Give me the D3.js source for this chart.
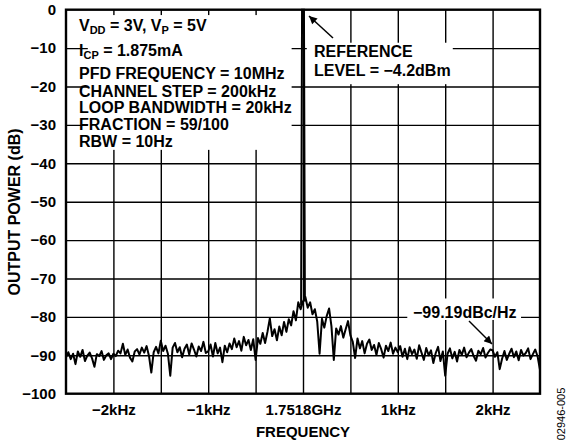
<!DOCTYPE html>
<html>
<head>
<meta charset="utf-8">
<script src="https://cdn.jsdelivr.net/npm/d3@7"></script>
<style>
  body { margin: 0; background: #fff; }
  svg { font-family: "Liberation Sans", Arial, Helvetica, sans-serif; font-weight: bold; }
</style>
</head>
<body>
<svg id="spectrumChart"></svg>
<script>
// spectrum analyser sweep, 25Hz bins from -2.5kHz to +2.5kHz around the carrier
const spanStartKHz = -2.5;
const binKHz = 0.025;
const noiseLevel = [
  -90.5, -89.2, -91.0, -89.6, -92.3, -89.0, -90.4, -88.6, -91.5, -90.1, -89.3, -90.8, -93.0, -89.7, -90.2, -88.9, -91.2, -90.0, -89.5, -91.0,
  -89.6, -90.2, -88.8, -89.5, -87.0, -89.9, -88.5, -90.6, -91.6, -89.0, -88.4, -89.8, -88.0, -89.3, -87.6, -90.1, -94.5, -89.2, -87.8, -89.5,
  -86.2, -88.9, -87.5, -89.6, -95.3, -88.0, -86.8, -89.2, -87.9, -90.5, -88.3, -87.2, -89.8, -86.9, -88.5, -90.3, -87.7, -88.9, -86.5, -89.4,
  -89.0, -87.2, -90.3, -86.8, -89.5, -88.0, -91.8, -87.5, -89.2, -86.9, -88.4, -85.6, -87.9, -86.3, -88.8, -85.2, -87.4, -86.0, -88.6, -85.8,
  -91.2, -85.5, -87.0, -84.2, -86.8, -83.9, -80.4, -85.0, -83.2, -86.1, -82.5, -84.8, -81.3, -83.9, -80.6, -82.2, -78.5, -80.9, -76.2, -78.0,
  -76.0, -74.8, -77.6, -76.2, -79.3, -78.0, -81.2, -89.6, -80.5, -82.8, -79.8, -77.8, -82.4, -91.2, -83.0, -84.6, -82.4, -85.4, -83.2, -81.1,
  -84.8, -86.5, -90.7, -85.6, -88.2, -86.3, -89.5, -87.0, -85.9, -88.6, -87.3, -89.9, -86.8, -88.4, -90.6, -87.5, -88.9, -86.7, -89.6, -88.0,
  -89.2, -87.6, -90.4, -88.3, -91.0, -87.9, -89.7, -88.5, -90.9, -87.4, -89.3, -91.2, -88.1, -90.0, -88.7, -92.0, -89.4, -87.8, -91.5, -89.0,
  -95.3, -89.6, -88.2, -90.8, -89.1, -91.6, -88.6, -89.9, -88.0, -90.5, -89.3, -88.4, -90.2, -91.4, -88.8, -89.7, -88.1, -90.6, -89.4, -88.5,
  -88.7, -90.4, -89.2, -93.6, -90.9, -88.9, -91.2, -89.6, -88.3, -90.5, -89.0, -91.3, -88.6, -90.1, -89.4, -88.2, -91.0, -89.7, -88.5, -90.3,
  -93.8
];

// the carrier itself, drawn up to the reference level at the top of the screen
const carrierFreq = [-0.02, -0.01, 0.01, 0.02];
const carrierLevel = [-77, 0, 0, -76];

const yTickValues = [0, -10, -20, -30, -40, -50, -60, -70, -80, -90, -100];
const gridFreqs = [-2, -1.5, -1, -0.5, 0, 0.5, 1, 1.5, 2];
const xTickFreqs = [-2, -1, 0, 1, 2];
const xTickLabels = ["\u22122kHz", "\u22121kHz", "1.7518GHz", "1kHz", "2kHz"];

const settingsLines = [
  [["V"], ["DD", "sub"], [" = 3V, V"], ["P", "sub"], [" = 5V"]],
  [["I"], ["CP", "sub"], [" = 1.875mA"]],
  [["PFD FREQUENCY = 10MHz"]],
  [["CHANNEL STEP = 200kHz"]],
  [["LOOP BANDWIDTH = 20kHz"]],
  [["FRACTION = 59/100"]],
  [["RBW = 10Hz"]]
];
const referenceLines = ["REFERENCE", "LEVEL = \u22124.2dBm"];
const noiseLabel = "\u221299.19dBc/Hz";

const dimensions = {
  width: 568,
  height: 445,
  margin: { top: 9.7, bottom: 51.3, left: 66, right: 28 }
};
const chartWidth = dimensions.width - dimensions.margin.left - dimensions.margin.right;
const chartHeight = dimensions.height - dimensions.margin.top - dimensions.margin.bottom;

const svg = d3.select("#spectrumChart")
  .attr("width", dimensions.width)
  .attr("height", dimensions.height);

const defs = svg.append("defs");
defs.append("marker")
  .attr("id", "arrowHead")
  .attr("viewBox", "0 0 10 10")
  .attr("refX", 10)
  .attr("refY", 5)
  .attr("markerWidth", 11)
  .attr("markerHeight", 8)
  .attr("markerUnits", "userSpaceOnUse")
  .attr("orient", "auto")
  .append("path")
  .attr("d", "M0,0L10,5L0,10Z")
  .attr("fill", "#000");

const plot = svg.append("g")
  .attr("transform", `translate(${dimensions.margin.left},${dimensions.margin.top})`);

const xScale = d3.scaleLinear().domain([-2.5, 2.5]).range([0, chartWidth]);
const yScale = d3.scaleLinear().domain([-100, 0]).range([chartHeight, 0]);

// grid
const gridX = plot.append("g")
  .attr("transform", `translate(0,${chartHeight})`)
  .call(d3.axisBottom(xScale).tickValues(gridFreqs).tickSize(-chartHeight).tickFormat(""));
const gridY = plot.append("g")
  .call(d3.axisLeft(yScale).tickValues(yTickValues.slice(1, -1)).tickSize(-chartWidth).tickFormat(""));
[gridX, gridY].forEach(g => {
  g.select(".domain").remove();
  g.selectAll("line").attr("stroke", "#000").attr("stroke-width", 1.4);
});

// white panels behind the notes hide the grid there
const panels = [
  { x0: -2.27, x1: -0.12, y0: -1.4, y1: -36.5 },
  { x0: 0.04, x1: 1.58, y0: -8.6, y1: -19.4 },
  { x0: 1.1, x1: 2.3, y0: -75.2, y1: -80.8 }
];
plot.selectAll(".panel")
  .data(panels)
  .enter()
  .append("rect")
  .attr("class", "panel")
  .attr("x", d => xScale(d.x0))
  .attr("width", d => xScale(d.x1) - xScale(d.x0))
  .attr("y", d => yScale(d.y0))
  .attr("height", d => yScale(d.y1) - yScale(d.y0))
  .attr("fill", "#fff");

// trace
const line = d3.line().x(d => xScale(d.f)).y(d => yScale(d.v));
const noiseData = noiseLevel.map((v, i) => ({ f: spanStartKHz + i * binKHz, v }));
const carrierData = carrierFreq.map((f, i) => ({ f, v: carrierLevel[i] }));

plot.append("path")
  .datum(noiseData)
  .attr("d", line)
  .attr("fill", "none")
  .attr("stroke", "#000")
  .attr("stroke-width", 2)
  .attr("stroke-linejoin", "round");
plot.append("path")
  .datum(carrierData)
  .attr("d", line)
  .attr("fill", "none")
  .attr("stroke", "#000")
  .attr("stroke-width", 2);

// frame
plot.append("rect")
  .attr("width", chartWidth)
  .attr("height", chartHeight)
  .attr("fill", "none")
  .attr("stroke", "#000")
  .attr("stroke-width", 2.4);

// tick labels
const axisY = d3.axisLeft(yScale).tickValues(yTickValues).tickSize(0).tickPadding(10)
  .tickFormat(d => (d < 0 ? "\u2212" + Math.abs(d) : d));
const yAxisG = plot.append("g").call(axisY);
const axisX = d3.axisBottom(xScale).tickValues(xTickFreqs).tickSize(0).tickPadding(11)
  .tickFormat((d, i) => xTickLabels[i]);
const xAxisG = plot.append("g").attr("transform", `translate(0,${chartHeight})`).call(axisX);
[yAxisG, xAxisG].forEach(g => {
  g.select(".domain").remove();
  g.selectAll("text")
    .attr("fill", "#000")
    .style("font-size", "15px")
    .style("font-family", "'Liberation Sans', Arial, sans-serif")
    .style("font-weight", "bold");
});

// axis titles
svg.append("text")
  .attr("text-anchor", "middle")
  .attr("transform", "translate(20,212)rotate(-90)")
  .style("font-size", "16px")
  .text("OUTPUT POWER (dB)");
svg.append("text")
  .attr("text-anchor", "middle")
  .attr("x", dimensions.margin.left + xScale(0))
  .attr("y", 437)
  .style("font-size", "15px")
  .text("FREQUENCY");

// settings block
const settingsBaselines = [30.5, 55.5, 79, 96.5, 113, 130, 146.5];
settingsLines.forEach((parts, i) => {
  const t = svg.append("text")
    .attr("x", 79)
    .attr("y", settingsBaselines[i])
    .style("font-size", "16px");
  let shifted = false;
  parts.forEach(([txt, kind]) => {
    const span = t.append("tspan").text(txt);
    if (kind === "sub") {
      span.style("font-size", "11px").attr("dy", 3.5);
      shifted = true;
    } else if (shifted) {
      span.attr("dy", -3.5);
      shifted = false;
    }
  });
});

// reference level note
referenceLines.forEach((txt, i) => {
  svg.append("text")
    .attr("x", 314)
    .attr("y", 56.5 + i * 19.5)
    .style("font-size", "16px")
    .text(txt);
});
svg.append("line")
  .attr("x1", 333).attr("y1", 38)
  .attr("x2", 309).attr("y2", 16)
  .attr("stroke", "#000")
  .attr("stroke-width", 1.5)
  .attr("marker-end", "url(#arrowHead)");

// noise floor note
svg.append("text")
  .attr("x", 413)
  .attr("y", 317.5)
  .style("font-size", "16px")
  .text(noiseLabel);
svg.append("line")
  .attr("x1", 469).attr("y1", 321)
  .attr("x2", 492).attr("y2", 344)
  .attr("stroke", "#000")
  .attr("stroke-width", 1.5)
  .attr("marker-end", "url(#arrowHead)");

// figure code
svg.append("text")
  .attr("text-anchor", "middle")
  .attr("transform", "translate(565,414)rotate(-90)")
  .style("font-size", "11px")
  .style("font-weight", "normal")
  .text("02946-005");
</script>
</body>
</html>
